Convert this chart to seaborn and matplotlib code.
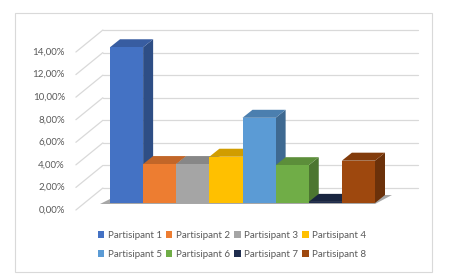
import matplotlib
matplotlib.use("Agg")
import matplotlib.pyplot as plt
import seaborn as sns
import numpy as np
import pandas as pd
from matplotlib.patches import Polygon, Patch, Rectangle
import matplotlib.colors as mcolors

participants = ["Partisipant 1", "Partisipant 2", "Partisipant 3", "Partisipant 4",
                "Partisipant 5", "Partisipant 6", "Partisipant 7", "Partisipant 8"]
values = [13.8, 3.45, 3.45, 4.1, 7.55, 3.35, 0.1, 3.75]
colors = ["#4472C4", "#ED7D31", "#A5A5A5", "#FFC000",
          "#5B9BD5", "#70AD47", "#1F2D4E", "#9E480E"]
yticks = [0, 2, 4, 6, 8, 10, 12, 14]

sns.set_theme(style="white")
plt.rcParams['font.family'] = ['Lato', 'DejaVu Sans']

W, H = 458, 280
fig = plt.figure(figsize=(W / 100, H / 100), dpi=100)
fig.patch.set_facecolor("white")

# outer frame
fig.add_artist(Rectangle((15 / W, 1 - 272 / H), (432 - 15) / W, (272 - 13) / H,
                         transform=fig.transFigure, fill=False, ec="#D9D9D9", lw=0.8))

ax = fig.add_axes([110 / W, (H - 203) / H, 265 / W, (203 - 45) / H])
df = pd.DataFrame({"p": participants, "v": values})
sns.barplot(data=df, x="p", y="v", hue="p", palette=colors, width=1.0,
            legend=False, ax=ax, saturation=1, edgecolor="none", linewidth=0)
ax.set_xlim(-0.5, 7.5)
ax.set_ylim(0, 14)
ax.axis("off")

T = ax.transData
inv = T.inverted()

def shift(x, y, dx, dy):
    px, py = T.transform((x, y))
    return tuple(inv.transform((px + dx, py + dy)))

DEPTH = (10, 8)       # bar depth in pixels
BACK = (18.4, 15)     # bar-front plane -> back wall
FRONT = (-8.6, -7)    # bar-front plane -> front plane
wall_x0, wall_x1 = -1.27, 8.25

grid_c = "#D9D9D9"
for v in yticks:
    a = shift(wall_x0, v, *BACK)
    b = shift(wall_x1, v, *BACK)
    ax.plot([a[0], b[0]], [a[1], b[1]], color=grid_c, lw=0.9, clip_on=False, zorder=1)
    c = shift(wall_x0, v, *FRONT)
    ax.plot([c[0], a[0]], [c[1], a[1]], color=grid_c, lw=0.9, clip_on=False, zorder=1)
    lx, ly = c
    px, py = T.transform((lx, ly))
    tx, ty = inv.transform((px - 11, py))
    ax.text(tx, ty, f"{v:.2f}".replace(".", ",") + "%", ha="right", va="center",
            fontsize=7, color="#595959", clip_on=False)

# floor shadow
p0 = shift(-0.5, 0, -10, -1)
p1 = shift(7.5, 0, 0, -1)
p2 = shift(7.5, 0, 17, 8)
p3 = shift(-0.5, 0, 8, 8)
ax.add_patch(Polygon([p0, p1, p2, p3], closed=True, fc="#606060", ec="none",
                     alpha=0.55, clip_on=False, zorder=1.5))

def shade(c, f):
    r, g, b = mcolors.to_rgb(c)
    return (r * f, g * f, b * f)

for i, patch in enumerate(ax.patches[:len(values)]):
    x0 = patch.get_x()
    w = patch.get_width()
    h = patch.get_height()
    col = colors[i]
    base_z = 3 + i * 0.1
    patch.set_zorder(base_z + 0.05)
    patch.set_clip_on(False)
    x1 = x0 + w
    side = [(x1, 0), shift(x1, 0, *DEPTH), shift(x1, h, *DEPTH), (x1, h)]
    top = [(x0, h), (x1, h), shift(x1, h, *DEPTH), shift(x0, h, *DEPTH)]
    ax.add_patch(Polygon(side, closed=True, fc=shade(col, 0.68), ec="none",
                         clip_on=False, zorder=base_z))
    ax.add_patch(Polygon(top, closed=True, fc=shade(col, 0.82), ec="none",
                         clip_on=False, zorder=base_z + 0.01))

# legend (row-major order in two rows)
handles = [Patch(fc=c, ec="none") for c in colors]
order = [0, 4, 1, 5, 2, 6, 3, 7]
fig.legend([handles[k] for k in order], [participants[k] for k in order],
           ncol=4, loc="center", bbox_to_anchor=(232 / W, 1 - 245 / H),
           frameon=False, fontsize=7, handlelength=0.65, handleheight=0.65,
           handletextpad=0.35, columnspacing=0.45, labelspacing=1.0,
           labelcolor="#595959")

fig.savefig("out.png", dpi=100)
